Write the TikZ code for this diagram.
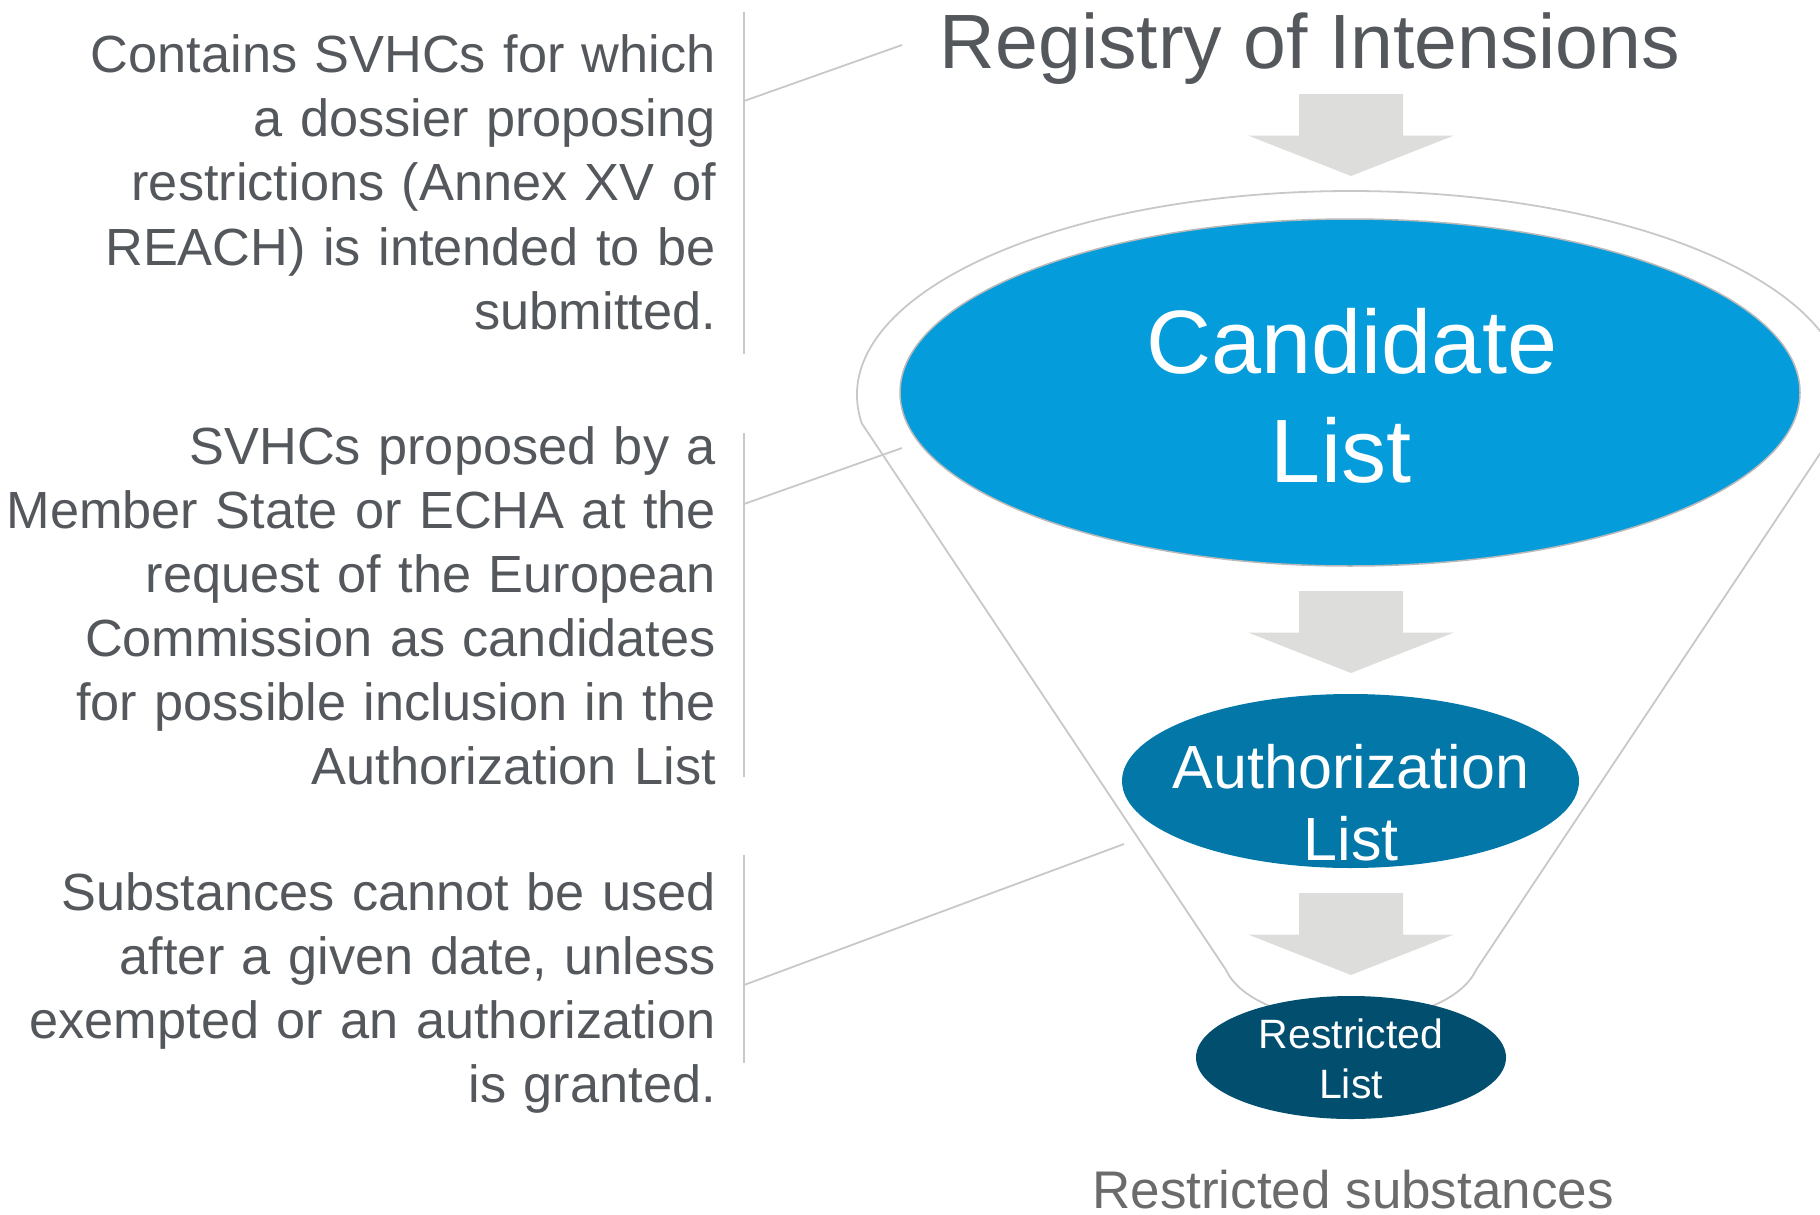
\documentclass[tikz,border=0pt]{standalone}
\usepackage{fontspec}
\setmainfont{Liberation Sans}
\usetikzlibrary{shapes.geometric}
\definecolor{txtgray}{HTML}{54575B}
\definecolor{subgray}{HTML}{6B6B6B}
\definecolor{linegray}{HTML}{C8C8C8}
\definecolor{arrowgray}{HTML}{DDDDDB}
\definecolor{candblue}{HTML}{049CDB}
\definecolor{authblue}{HTML}{0277A8}
\definecolor{restblue}{HTML}{014E6F}
\begin{document}
\begin{tikzpicture}[x=1pt,y=-1pt,
  lefttext/.style={text=txtgray, inner sep=0pt, text width=720pt, align=right,
    font=\fontsize{52.3pt}{64pt}\selectfont, anchor=base east},
  listtext/.style={text=white, inner sep=0pt, text width=600pt, align=center, anchor=base},
  listell/.style={ellipse, inner sep=0pt, draw=none},
  bar/.style={draw=linegray, line width=1.8pt},
  callout/.style={draw=linegray, line width=1.8pt},
  funnel/.style={draw=linegray, line width=1.8pt},
  downarr/.pic={\fill[arrowgray] (-52,0) -- (52,0) -- (52,41.5) -- (103,41.5) -- (0,82) -- (-103,41.5) -- (-52,41.5) -- cycle;}
]
\useasboundingbox (0,0) rectangle (1820,1215);
\clip (0,0) rectangle (1820,1215);

% funnel outline
\draw[funnel] (861.8,423.4) arc[start angle=172, end angle=368, x radius=494, y radius=204]
  -- (1476,970) .. controls (1462,1000) and (1412,1020) .. (1351,1022)
  .. controls (1290,1020) and (1240,1000) .. (1226,970) -- cycle;

% title
\node[text=txtgray, inner sep=0pt, anchor=base, font=\fontsize{77pt}{90pt}\selectfont] (title) at (1310,69) {Registry of Intensions};

% arrows
\pic at (1351,94) {downarr};
\pic at (1351,591) {downarr};
\pic at (1351,893) {downarr};

% ellipses
\node[listell, fill=candblue, draw=gray!55, line width=1.5pt, minimum width=900pt, minimum height=347pt] (cand) at (1350,392.5) {};
\node[listell, fill=authblue, minimum width=457pt, minimum height=174pt] (auth) at (1350.5,781) {};
\node[listell, fill=restblue, minimum width=310pt, minimum height=123pt] (rest) at (1351,1057.5) {};

\node[listtext, font=\fontsize{90pt}{108.5pt}\selectfont] (candtxt) at (1352,373.5) {Candidate\\List\hspace*{22pt}};
\node[listtext, font=\fontsize{61pt}{72pt}\selectfont] (authtxt) at (1351,788.6) {Authorization\\List};
\node[listtext, font=\fontsize{41pt}{50.5pt}\selectfont] (resttxt) at (1351,1048) {Restricted\\List};

\node[text=subgray, inner sep=0pt, anchor=base, font=\fontsize{53pt}{64pt}\selectfont] (sub) at (1353,1208) {Restricted substances};

% left texts
\node[lefttext] (t1) at (716,73) {Contains SVHCs for which\\a dossier proposing\\restrictions (Annex XV of\\REACH) is intended to be\\submitted.};
\node[lefttext] (t2) at (716,464) {SVHCs proposed by a\\Member State or ECHA at the\\request of the European\\Commission as candidates\\for possible inclusion in the\\Authorization List};
\node[lefttext] (t3) at (716,910) {Substances cannot be used\\after a given date, unless\\exempted or an authorization\\is granted.};

% bars
\coordinate (b1t) at (744,12);  \coordinate (b1b) at (744,354);
\coordinate (b2t) at (744,433); \coordinate (b2b) at (744,777);
\coordinate (b3t) at (744,855); \coordinate (b3b) at (744,1063);
\draw[bar] (b1t) -- (b1b);
\draw[bar] (b2t) -- (b2b);
\draw[bar] (b3t) -- (b3b);

% callouts
\coordinate (c1a) at (744,101);  \coordinate (c1b) at (902,45);
\coordinate (c2a) at (744,504);  \coordinate (c2b) at (902,448);
\coordinate (c3a) at (744,985);  \coordinate (c3b) at (1124,844);
\draw[callout] (c1a) -- (c1b);
\draw[callout] (c2a) -- (c2b);
\draw[callout] (c3a) -- (c3b);
\end{tikzpicture}
\end{document}
